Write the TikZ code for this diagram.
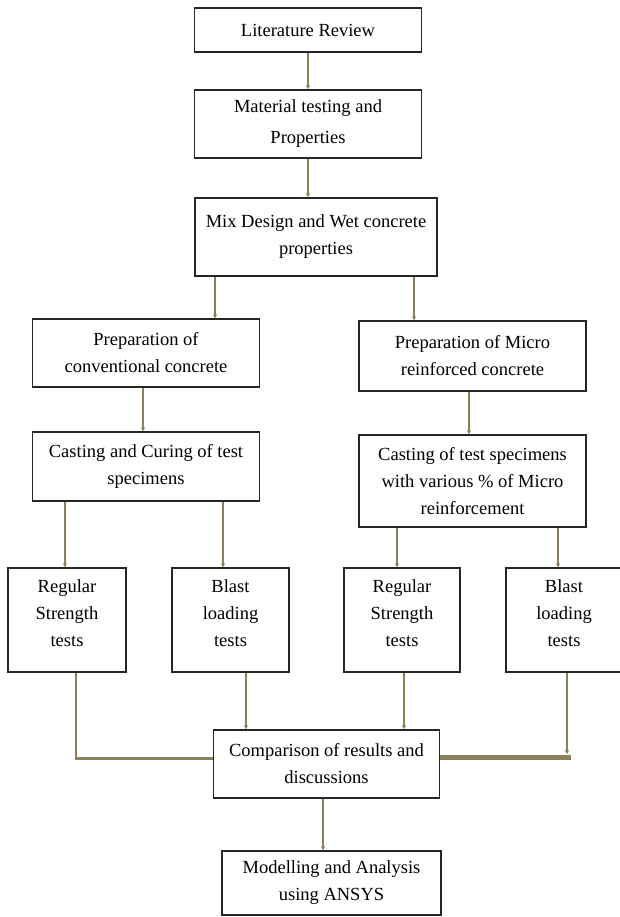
\documentclass[tikz,border=0pt]{standalone}
\usepackage{fontspec}
\setmainfont{Liberation Serif}
\usetikzlibrary{arrows.meta}
\definecolor{olive}{RGB}{140,128,88}

\begin{document}
\begin{tikzpicture}[x=1pt, y=-1pt,
    box/.style={draw=black!85, line width=1.5pt, fill=white, align=center,
      inner sep=0pt, font=\fontsize{18.5}{27}\selectfont},
    arr/.style={draw=olive, line width=2.2pt,
      -{Stealth[length=4pt, width=4pt]}},
    link/.style={draw=olive, line width=3pt}]
  \clip (0,0) rectangle (620,917);
  % ---------- common trunk ----------
  \node[box, minimum width=227pt, minimum height=44pt] (lit) at (308,30)
    {Literature Review};
  \node[box, minimum width=227pt, minimum height=68pt] (mat) at (308,124)
    {Material testing and\\[4pt]Properties};
  \node[box, minimum width=242pt, minimum height=78pt] (mix) at (316,237)
    {Mix Design and Wet concrete\\properties};
  \draw[arr] (lit.south) -- (mat.north);
  \draw[arr] (mat.south) -- ([xshift=-8pt]mix.north);
  % ---------- conventional branch ----------
  \node[box, minimum width=227pt, minimum height=68pt] (prepconv) at (146,353)
    {Preparation of\\conventional concrete};
  \node[box, minimum width=227pt, minimum height=69pt] (castconv) at (146,466.5)
    {Casting and Curing of test\\specimens};
  \node[box, minimum width=118pt, minimum height=104pt] (regconv) at (67,620)
    {Regular\\Strength\\tests\\[-13pt]};
  \node[box, minimum width=117pt, minimum height=104pt] (blastconv) at (230.5,620)
    {Blast\\loading\\tests\\[-13pt]};
  \draw[arr] ([xshift=-101pt]mix.south) -- ([xshift=69pt]prepconv.north);
  \draw[arr] ([xshift=-3pt]prepconv.south) -- ([xshift=-3pt]castconv.north);
  \draw[arr] ([xshift=-81pt]castconv.south) -- ([xshift=-2pt]regconv.north);
  \draw[arr] ([xshift=77pt]castconv.south) -- ([xshift=-7.5pt]blastconv.north);
  % ---------- micro reinforced branch ----------
  \node[box, minimum width=227pt, minimum height=70pt] (prepmicro) at (472.5,356)
    {Preparation of Micro\\reinforced concrete};
  \node[box, minimum width=227pt, minimum height=92pt] (castmicro) at (472.5,481)
    {Casting of test specimens\\with various \% of Micro\\reinforcement};
  \node[box, minimum width=116pt, minimum height=104pt] (regmicro) at (402,620)
    {Regular\\Strength\\tests\\[-13pt]};
  \node[box, minimum width=116pt, minimum height=104pt] (blastmicro) at (564,620)
    {Blast\\loading\\tests\\[-13pt]};
  \draw[arr] ([xshift=98pt]mix.south) -- ([xshift=-58.5pt]prepmicro.north);
  \draw[arr] ([xshift=-3.5pt]prepmicro.south) -- ([xshift=-3.5pt]castmicro.north);
  \draw[arr] ([xshift=-75.5pt]castmicro.south) -- ([xshift=-5pt]regmicro.north);
  \draw[arr] ([xshift=85.5pt]castmicro.south) -- ([xshift=-6pt]blastmicro.north);
  % ---------- results ----------
  \node[box, minimum width=226pt, minimum height=68pt] (comp) at (326.5,764)
    {Comparison of results and\\discussions};
  \node[box, minimum width=219pt, minimum height=64pt] (model) at (331.5,883)
    {Modelling and Analysis\\using ANSYS};
  \coordinate (ljoin) at (76,758);
  \coordinate (rjoin) at (571,757);
  \coordinate (rdrop) at (567,754);
  \draw[draw=olive, line width=2.2pt] (regconv.south -| ljoin) -- (ljoin);
  \draw[link] ([xshift=-1.1pt]ljoin) -- (comp.west |- ljoin);
  \draw[arr] ([xshift=15.5pt]blastconv.south) -- ([xshift=-80.5pt]comp.north);
  \draw[arr] ([xshift=2pt]regmicro.south) -- ([xshift=77.5pt]comp.north);
  \draw[arr] (blastmicro.south -| rdrop) -- (rdrop);
  \draw[link, line width=5pt] (comp.east |- rjoin) -- (rjoin);
  \draw[arr] ([xshift=-3.5pt]comp.south) -- ([xshift=-8.5pt]model.north);
\end{tikzpicture}
\end{document}
